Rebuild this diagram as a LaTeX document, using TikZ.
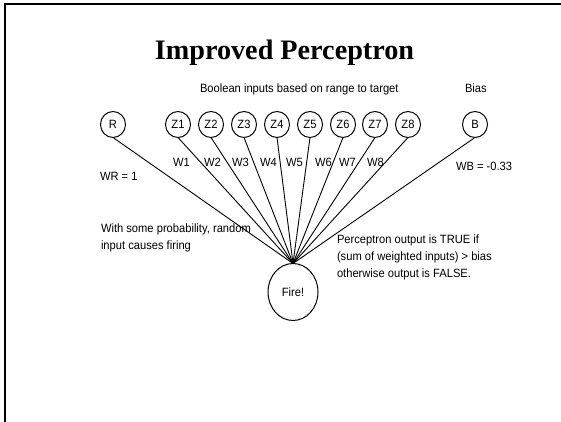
\documentclass[tikz,border=0pt]{standalone}
\usepackage{fontspec}
\setmainfont{Liberation Sans}
\newfontfamily\bodyfont[FakeStretch=0.93]{Liberation Sans}
\newfontfamily\titlefont{Liberation Serif}
\usetikzlibrary{shapes.geometric}
\begin{document}
\begin{tikzpicture}[x=1pt,y=-1pt,
  every node/.style={inner sep=0pt, outer sep=0pt},
  txt/.style={font=\bodyfont\fontsize{12}{17}\selectfont, anchor=base west},
  unit/.style={draw, ellipse, minimum width=25pt, minimum height=26pt, line width=1pt, font=\bodyfont\fontsize{12}{14}\selectfont},
  link/.style={line width=0.9pt}]
\useasboundingbox (0,0) rectangle (561,422);
% slide frame
\draw[line width=2.5pt] (5,422) -- (5,4) -- (561,4);

% title
\node[font=\titlefont\bfseries\fontsize{28.2}{30}\selectfont, anchor=base] (title) at (284.5,60) {Improved Perceptron};

% captions above the inputs
\node[txt] (cap) at (200,93) {Boolean inputs based on range to target};
\node[txt] (biascap) at (465,93) {Bias};

% input units
\node[unit] (R) at (113,124.5) {R};
\node[unit] (Z1) at (178,124.5) {Z1};
\node[unit] (Z2) at (211,124.5) {Z2};
\node[unit] (Z3) at (244,124.5) {Z3};
\node[unit] (Z4) at (277,124.5) {Z4};
\node[unit] (Z5) at (310,124.5) {Z5};
\node[unit] (Z6) at (343,124.5) {Z6};
\node[unit] (Z7) at (375,124.5) {Z7};
\node[unit] (Z8) at (408,124.5) {Z8};
\node[unit] (B) at (475,124.5) {B};

% output unit
\node[unit, minimum width=50pt, minimum height=57pt] (F) at (293,292) {Fire!};

% weighted connections
\foreach \n in {R,Z1,Z2,Z3,Z4,Z5,Z6,Z7,Z8,B}
  \draw[link] (\n.south) -- (F.north);

% weight labels
\node[txt] (wr) at (100,180) {WR = 1};
\node[txt] (w1) at (173,166) {W1};
\node[txt] (w2) at (204,166) {W2};
\node[txt] (w3) at (232,166) {W3};
\node[txt] (w4) at (260,166) {W4};
\node[txt] (w5) at (286,166) {W5};
\node[txt] (w6) at (315,166) {W6};
\node[txt] (w7) at (339,166) {W7};
\node[txt] (w8) at (367,166) {W8};
\node[txt] (wb) at (456,170) {WB = -0.33};

% notes
\node[txt, align=left] (note1) at (101,249) {With some probability, random\\input causes firing};
\node[txt, align=left] (note2) at (337,277) {Perceptron output is TRUE if\\(sum of weighted inputs) > bias\\otherwise output is FALSE.};
\end{tikzpicture}
\end{document}
